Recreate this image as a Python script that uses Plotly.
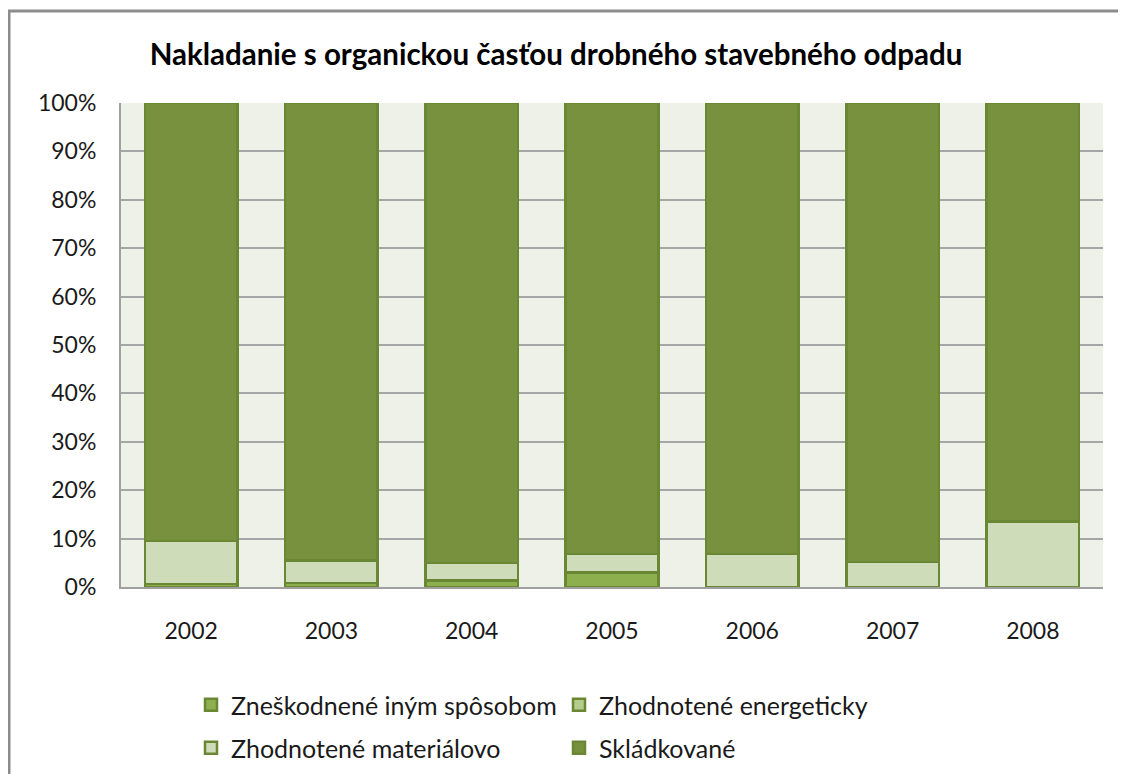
import plotly.graph_objects as go

years = ["2002", "2003", "2004", "2005", "2006", "2007", "2008"]
zneskodnene = [0.6, 0.8, 1.3, 3.0, 0.0, 0.0, 0.0]
energeticky = [0.0, 0.0, 0.0, 0.0, 0.0, 0.0, 0.0]
materialovo = [8.9, 4.7, 3.7, 3.8, 6.8, 5.2, 13.5]
skladkovane = [round(100 - a - b - c, 2) for a, b, c in zip(zneskodnene, energeticky, materialovo)]

series = [
    ("Zneškodnené iným spôsobom", zneskodnene, "#8DAF4E", "legend"),
    ("Zhodnotené energeticky", energeticky, "#B4CC8C", "legend"),
    ("Zhodnotené materiálovo", materialovo, "#CFDCB9", "legend2"),
    ("Skládkované", skladkovane, "#78913F", "legend2"),
]

fig = go.Figure()
for name, vals, col, lg in series:
    fig.add_trace(go.Bar(
        x=years, y=[v / 100 for v in vals], name=name, legend=lg,
        marker=dict(color=col, line=dict(color="#6A8734", width=2.5)),
        width=0.66,
    ))

font = "Lato, Carlito, Calibri, sans-serif"
W, H = 1118, 766
L, R, T, B = 113, 23, 95, 187
pw, ph = W - L - R, H - T - B

def px(x):  # page x -> paper x
    return (x - 8 - L) / pw

def py(y):  # page y -> paper y
    return (H - B - (y - 8)) / ph

legend_common = dict(orientation="h", xanchor="left", yanchor="middle",
                     entrywidth=323, entrywidthmode="pixels", traceorder="normal",
                     font=dict(family=font, size=25, color="#1a1a1a"), itemwidth=30,
                     bgcolor="rgba(0,0,0,0)")

fig.update_layout(
    barmode="stack",
    width=W, height=H,
    margin=dict(l=L, r=R, t=T, b=B, autoexpand=False),
    paper_bgcolor="white",
    plot_bgcolor="#EEF1E8",
    font=dict(family=font, size=23, color="#1a1a1a"),
    title=dict(text="<b>Nakladanie s organickou časťou drobného stavebného odpadu</b>",
               x=548 / W, xanchor="center", y=1 - 47 / H, yanchor="middle",
               font=dict(family=font, size=29.5, color="black")),
    xaxis=dict(showgrid=False, showline=True, linecolor="#A0A0A0", linewidth=2,
               ticks="", ticklabelstandoff=22, tickfont=dict(size=23), automargin=False),
    yaxis=dict(range=[0, 1], tickformat=".0%", dtick=0.1,
               showgrid=True, gridcolor="#A6A6A6", gridwidth=1.5,
               showline=True, linecolor="#A0A0A0", linewidth=2,
               ticks="", ticklabelstandoff=18, tickfont=dict(size=23),
               zeroline=False, automargin=False),
    legend=dict(x=px(191), y=py(705), **legend_common),
    legend2=dict(x=px(191), y=py(748), **legend_common),
    showlegend=True,
    shapes=[
        dict(type="line", xref="paper", yref="paper",
             x0=px(8), x1=px(1130), y0=py(11), y1=py(11),
             line=dict(color="#8C8C8C", width=3)),
        dict(type="line", xref="paper", yref="paper",
             x0=px(9), x1=px(9), y0=py(11), y1=py(800),
             line=dict(color="#8C8C8C", width=3)),
    ],
)

fig.write_html("out.html")
